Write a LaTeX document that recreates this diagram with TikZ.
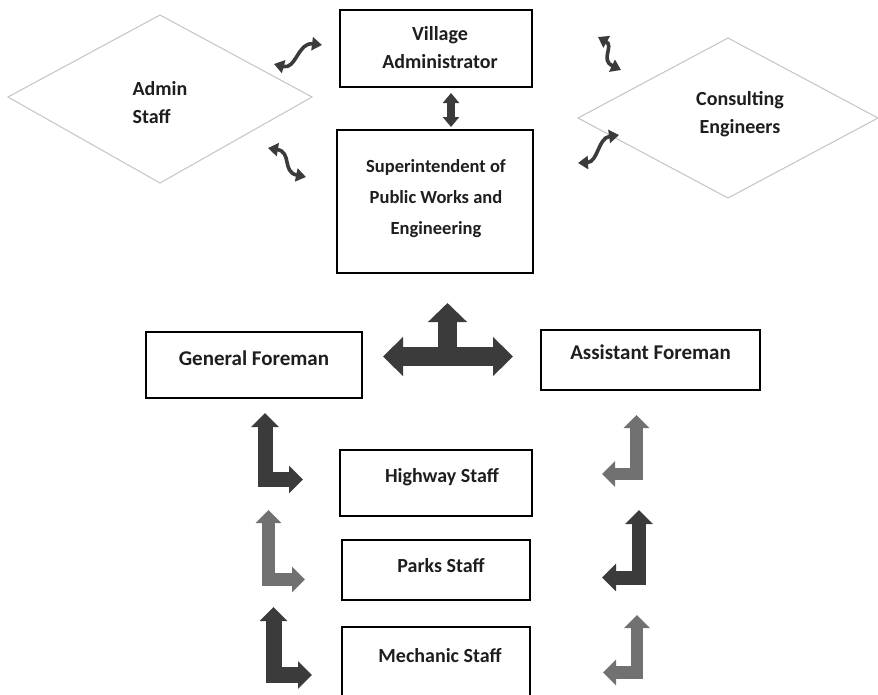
\documentclass[tikz,border=0pt]{standalone}
\usepackage{fontspec}
\setmainfont{Carlito}
\usetikzlibrary{arrows.meta}
\definecolor{darkarr}{HTML}{3B3B3B}
\definecolor{grayarr}{HTML}{717171}
\definecolor{diaedge}{HTML}{C4C4C4}
\definecolor{txt}{HTML}{1E1E1E}
\begin{document}
\begin{tikzpicture}[x=1pt,y=-1pt,
  box/.style={draw=black, line width=2pt, fill=white, inner sep=0pt},
  lbl/.style={inner sep=0pt, text=txt, font=\bfseries\fontsize{20}{28}\selectfont},
  big/.style={inner sep=0pt, text=txt, font=\bfseries\fontsize{21}{28}\selectfont},
  dia/.style={draw=diaedge, line width=1pt},
  curvy/.style={draw=darkarr, line width=3.6pt, {Triangle[width=13pt,length=10pt]}-{Triangle[width=13pt,length=10pt]}},
  blkdark/.style={draw=darkarr, line width=15pt, line join=miter, {Triangle[width=27pt,length=14pt]}-{Triangle[width=27pt,length=14pt]}},
  blkgray/.style={draw=grayarr, line width=12.5pt, line join=miter, {Triangle[width=25pt,length=13pt]}-{Triangle[width=25pt,length=13pt]}}
]
\useasboundingbox (0,0) rectangle (878,694);
\fill[white] (0,0) rectangle (878,694);

% diamonds
\draw[dia] (8,97) -- (160,15) -- (312,97) -- (160,183) -- cycle;
\draw[dia] (578,118) -- (728,38) -- (878,118) -- (728,198) -- cycle;
\node[lbl, align=left] (admin) at (160,103) {Admin\\Staff};
\node[lbl, align=center] (cons) at (740,114) {Consulting\\Engineers};

% boxes
\node[box, minimum width=192pt, minimum height=77pt] (va) at (436,48.5) {};
\node[lbl, align=center] (vat) at (440,48) {Village\\Administrator};
\node[box, minimum width=196pt, minimum height=143pt] (sup) at (435,201.5) {};
\node[inner sep=0pt, text=txt, font=\bfseries\fontsize{18.5}{31}\selectfont, align=center] (supt) at (436,199) {Superintendent of\\Public Works and\\Engineering};
\node[box, minimum width=216pt, minimum height=66pt] (gf) at (254,365) {};
\node[big] (gft) at (254,358) {General Foreman};
\node[box, minimum width=219pt, minimum height=60pt] (af) at (650.5,360) {};
\node[big] (aft) at (650.5,352) {Assistant Foreman};
\node[box, minimum width=192pt, minimum height=66pt] (hs) at (436,483) {};
\node[lbl] (hst) at (442,477) {Highway Staff};
\node[box, minimum width=188pt, minimum height=60pt] (ps) at (436,570) {};
\node[lbl] (pst) at (441,566) {Parks Staff};
\node[box, minimum width=188pt, minimum height=70pt] (ms) at (436,662) {};
\node[lbl] (mst) at (440,656) {Mechanic Staff};

% curvy double arrows
\coordinate (c1a) at (274,64); \coordinate (c1b) at (322,45);
\draw[curvy] (c1a) .. controls (296,70) and (298,42) .. (c1b);
\coordinate (c2a) at (598,37); \coordinate (c2b) at (621,70);
\draw[curvy] (c2a) .. controls (614,46) and (600,60) .. (c2b);
\coordinate (c3a) at (268,148); \coordinate (c3b) at (306,177);
\draw[curvy] (c3a) .. controls (292,152) and (282,172) .. (c3b);
\coordinate (c4a) at (578,163); \coordinate (c4b) at (619,135);
\draw[curvy] (c4a) .. controls (598,162) and (598,138) .. (c4b);

% vertical double arrow between administrator and superintendent
\draw[draw=darkarr, line width=8pt, {Triangle[width=16pt,length=10pt]}-{Triangle[width=16pt,length=10pt]}] (451,93) -- (451,127);

% T arrow
\coordinate (tl) at (383,356.5); \coordinate (tr) at (513,356.5);
\coordinate (tb) at (447.5,366); \coordinate (tt) at (447.5,303);
\draw[draw=darkarr, line width=19pt, {Triangle[width=38pt,length=20pt]}-{Triangle[width=38pt,length=20pt]}] (tl) -- (tr);
\draw[draw=darkarr, line width=19pt, -{Triangle[width=38pt,length=19pt]}] (tb) -- (tt);

% left L arrows
\coordinate (l1a) at (265,413); \coordinate (l1b) at (303,479.5);
\draw[blkdark] (l1a) |- (l1b);
\coordinate (l2a) at (268.5,510); \coordinate (l2b) at (305,579.5);
\draw[blkgray] (l2a) |- (l2b);
\coordinate (l3a) at (273.5,607); \coordinate (l3b) at (312,675);
\draw[blkdark, line width=16pt] (l3a) |- (l3b);

% right L arrows
\coordinate (r1a) at (636.5,415); \coordinate (r1b) at (602,474);
\draw[blkgray] (r1a) |- (r1b);
\coordinate (r2a) at (639,510); \coordinate (r2b) at (602,577.5);
\draw[blkdark, line width=14pt] (r2a) |- (r2b);
\coordinate (r3a) at (637,615); \coordinate (r3b) at (603,672.5);
\draw[blkgray] (r3a) |- (r3b);
\end{tikzpicture}
\end{document}
